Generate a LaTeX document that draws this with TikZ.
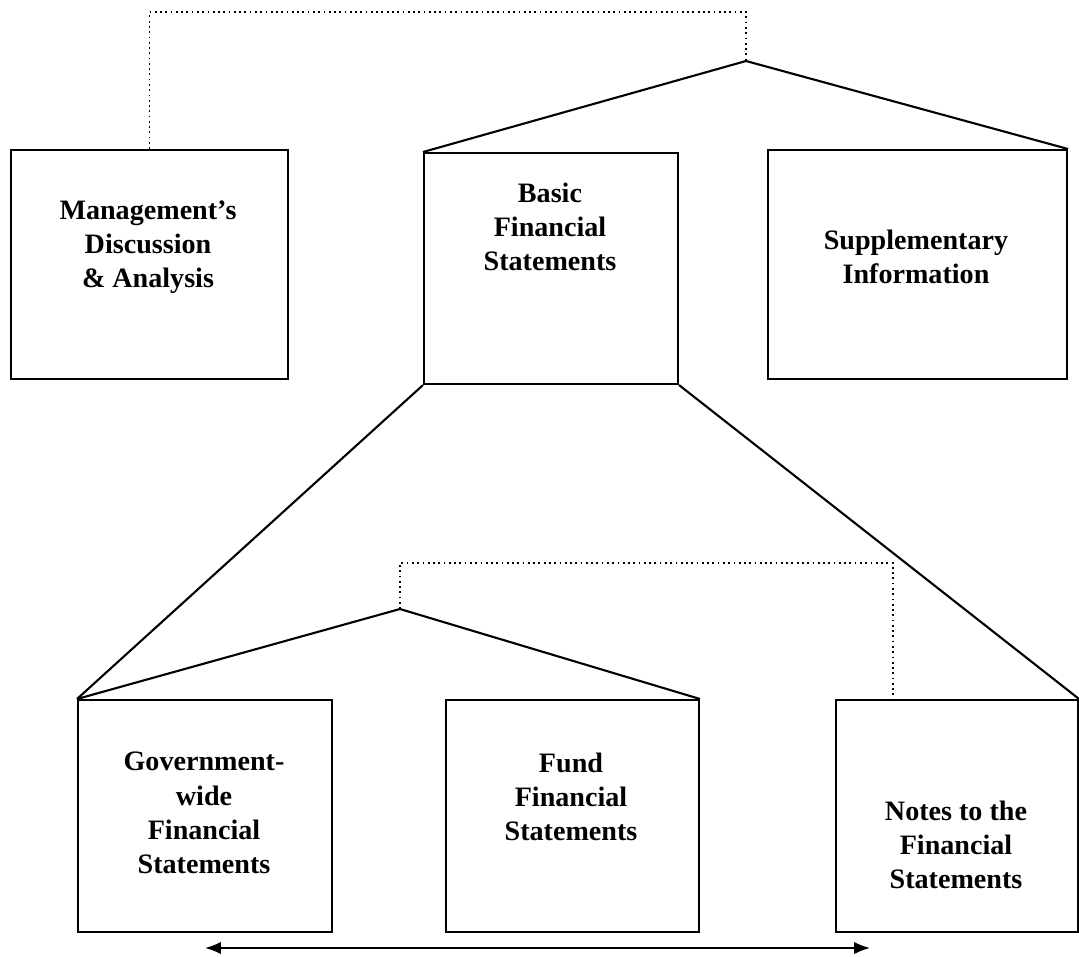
\documentclass[tikz,border=0pt]{standalone}
\usepackage{fontspec}
\setmainfont{Liberation Serif}
\usetikzlibrary{arrows.meta}
\usetikzlibrary{positioning}

\begin{document}
\begin{tikzpicture}[>={Latex[length=9pt,width=7pt]}, x=0.02cm, y=-0.02cm,
    box/.style={draw, line width=1.2pt, anchor=north west, inner sep=0pt},
    txt/.style={align=center, font=\fontsize{16}{19.5}\selectfont\bfseries}]
      \path[use as bounding box] (0,0) rectangle (1079,957);

      % top row
      \node[box, minimum width=5.54cm, minimum height=4.58cm] (mda)   at (10,149) {};
      \node[box, minimum width=5.08cm, minimum height=4.62cm] (bfs)   at (423,152) {};
      \node[box, minimum width=5.98cm, minimum height=4.58cm] (suppl) at (767,149) {};

      \node[txt] (mdatxt)   at (148,247) {Management's\\Discussion\\\& Analysis};
      \node[txt] (bfstxt)   at (550,227) {Basic\\Financial\\Statements};
      \node[txt] (suppltxt) at (916,257) {Supplementary\\Information};

      % bottom row
      \node[box, minimum width=5.08cm, minimum height=4.64cm] (gwfs)  at (77,699) {};
      \node[box, minimum width=5.06cm, minimum height=4.64cm] (ffs)   at (445,699) {};
      \node[box, minimum width=4.84cm, minimum height=4.64cm] (notes) at (835,699) {};

      \node[txt] (gwfstxt)  at (204,813) {Government-\\wide\\Financial\\Statements};
      \node[txt] (ffstxt)   at (571,797) {Fund\\Financial\\Statements};
      \node[txt] (notestxt) at (956,845) {Notes to the\\Financial\\Statements};

      % upper fork
      \coordinate (topfork) at (746,61);
      \coordinate (toplink) at (746,12);
      \draw[line width=1.2pt] (bfs.north west) -- (topfork) -- (suppl.north east);
      \draw[dotted, line width=1pt] (mda.north) |- (toplink) -- (topfork);

      % from basic statements down
      \draw[line width=1.2pt] (bfs.south west) -- (gwfs.north west);
      \draw[line width=1.2pt] (bfs.south east) -- (notes.north east);

      % lower fork
      \coordinate (lowfork) at (400,609);
      \coordinate (lowlink) at (400,563);
      \coordinate (notelink) at (893,699);
      \draw[line width=1.2pt] (gwfs.north west) -- (lowfork) -- (ffs.north east);
      \draw[dotted, line width=1pt] (lowfork) -- (lowlink) -| (notelink);

      % arrow
      \coordinate (arrl) at (205,948);
      \coordinate (arrr) at (870,948);
      \draw[<->, line width=1pt] (arrl) -- (arrr);
    \end{tikzpicture}
\end{document}
